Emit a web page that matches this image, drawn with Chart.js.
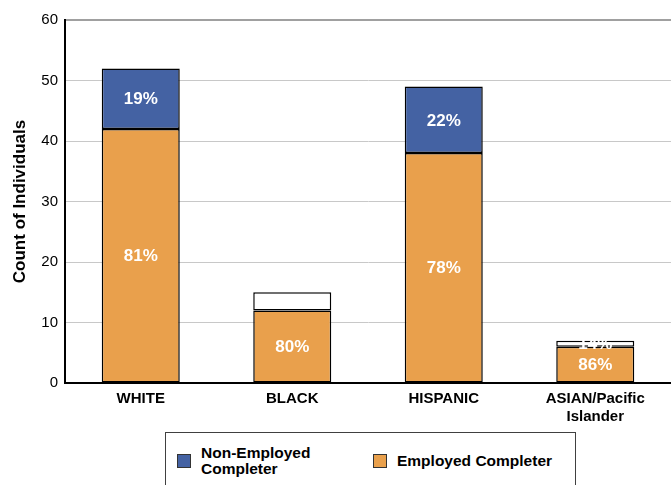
<!DOCTYPE html>
<html>
<head>
<meta charset="utf-8">
<script src="https://cdn.jsdelivr.net/npm/chart.js@4"></script>
<style>
  body { margin: 0; background: #fff; font-family: "Liberation Sans", Arial, sans-serif; }
  #wrap { position: relative; width: 671px; height: 485px; overflow: hidden; }
  .legend-box {
    position: absolute; left: 165px; top: 432px; width: 411px; height: 70px;
    border: 1px solid #404040; box-sizing: border-box;
  }
  .legend-item { position: absolute; display: flex; align-items: center; font-weight: bold; font-size: 15.5px; color: #000; line-height: 16px; }
  .swatch { width: 14px; height: 14px; border: 1px solid #333; box-sizing: border-box; margin-right: 10px; }
</style>
</head>
<body>
<div id="wrap">
  <div id="chart-holder" style="position:absolute;left:0;top:0;width:671px;height:431px;">
    <canvas id="chart"></canvas>
  </div>
  <div class="legend-box">
    <div class="legend-item" style="left:11px;top:12px;">
      <div class="swatch" style="background:#4462A3;"></div>
      <div>Non-Employed<br>Completer</div>
    </div>
    <div class="legend-item" style="left:207px;top:20px;">
      <div class="swatch" style="background:#E9A04C;"></div>
      <div>Employed Completer</div>
    </div>
  </div>
</div>
<script>
const categories = ['WHITE', 'BLACK', 'HISPANIC', ['ASIAN/Pacific', 'Islander']];
const employed = [42, 12, 38, 6];
const nonEmployed = [10, 3, 11, 1];
const yTicks = [0, 10, 20, 30, 40, 50, 60];

const orange = '#E9A04C';
const blue = '#4462A3';

// percentages drawn inside each stacked segment
const segmentLabels = {
  id: 'segmentLabels',
  afterDatasetsDraw(chart) {
    const ctx = chart.ctx;
    ctx.save();
    ctx.font = 'bold 17px "Liberation Sans", Arial, sans-serif';
    ctx.fillStyle = '#fff';
    ctx.textAlign = 'center';
    ctx.textBaseline = 'middle';
    chart.data.datasets.forEach(function(ds, di) {
      const meta = chart.getDatasetMeta(di);
      meta.data.forEach(function(bar, i) {
        const total = employed[i] + nonEmployed[i];
        const pct = Math.round(ds.data[i] / total * 100) + '%';
        const mid = (bar.y + bar.base) / 2;
        ctx.fillText(pct, bar.x, mid + 1);
      });
    });
    ctx.restore();
  }
};

new Chart(document.getElementById('chart'), {
  type: 'bar',
  data: {
    labels: categories,
    datasets: [
      {
        label: 'Employed Completer',
        data: employed,
        backgroundColor: orange,
        borderColor: '#000',
        borderWidth: 1.5,
        borderSkipped: false,
        categoryPercentage: 1,
        barPercentage: 0.515
      },
      {
        label: 'Non-Employed Completer',
        data: nonEmployed,
        backgroundColor: [blue, '#fff', blue, '#fff'],
        borderColor: '#000',
        borderWidth: 1.5,
        borderSkipped: false,
        categoryPercentage: 1,
        barPercentage: 0.515
      }
    ]
  },
  options: {
    responsive: true,
    maintainAspectRatio: false,
    animation: false,
    layout: { padding: { top: 20, right: 0, left: 10, bottom: 0 } },
    plugins: {
      legend: { display: false },
      tooltip: { enabled: false }
    },
    scales: {
      x: {
        stacked: true,
        grid: { display: false, drawTicks: false },
        border: { color: '#000', width: 2 },
        ticks: {
          color: '#000',
          padding: 7,
          font: { family: '"Liberation Sans", Arial, sans-serif', size: 15, weight: 'bold', lineHeight: 1.2 }
        },
        afterFit: function(scale) { scale.height = 48; }
      },
      y: {
        stacked: true,
        min: 0,
        max: 60,
        afterBuildTicks: function(scale) {
          scale.ticks = yTicks.map(function(v) { return { value: v }; });
        },
        grid: {
          drawTicks: false,
          color: function(c) {
            if (c.tick.value === 60) return '#a0a0a0';
            if (c.tick.value === 0) return 'rgba(0,0,0,0)';
            return '#c8c8c8';
          },
          lineWidth: function(c) { return c.tick.value === 60 ? 2 : 1; }
        },
        border: { color: '#000', width: 2 },
        ticks: {
          color: '#000',
          padding: 7,
          font: { family: '"Liberation Sans", Arial, sans-serif', size: 15 }
        },
        title: {
          display: true,
          text: 'Count of Individuals',
          color: '#000',
          padding: { top: 0, bottom: 3 },
          font: { family: '"Liberation Sans", Arial, sans-serif', size: 17, weight: 'bold' }
        },
        afterFit: function(scale) { scale.width = 55; }
      }
    }
  },
  plugins: [segmentLabels]
});
</script>
</body>
</html>
